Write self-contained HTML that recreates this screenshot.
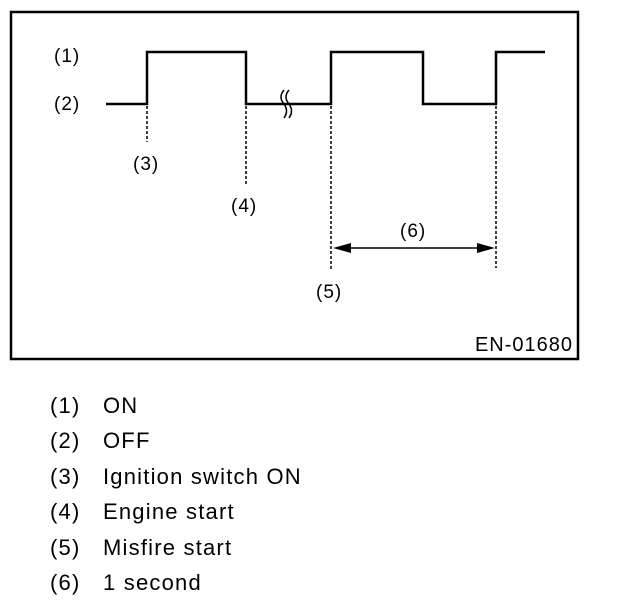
<!DOCTYPE html>
<html><head><style>
body{margin:0;background:#fff;width:640px;height:608px;overflow:hidden;font-family:"Liberation Sans",sans-serif}
.l{position:absolute;left:50px;font-size:22px;letter-spacing:1.2px;color:#000}
.l span{position:absolute;left:53px;white-space:nowrap}
</style></head><body>
<svg width="640" height="608" style="position:absolute;left:0;top:0" font-family="Liberation Sans" font-size="19" letter-spacing="1">
<rect x="11" y="12" width="567" height="347" fill="none" stroke="#000" stroke-width="2.5"/>
<path d="M106 104H147V52H246V104H331V52H423V104H496V52H545" fill="none" stroke="#000" stroke-width="2.5"/>
<path d="M284 90q-6 7 0 14q5 7 0 14M289 90q-6 7 0 14q5 7 0 14" fill="none" stroke="#000" stroke-width="1.5"/>
<g stroke="#000" stroke-dasharray="3,2" stroke-width="1.5">
<line x1="147" y1="106" x2="147" y2="142"/>
<line x1="246" y1="106" x2="246" y2="185"/>
<line x1="331" y1="106" x2="331" y2="270"/>
<line x1="496" y1="106" x2="496" y2="268"/>
</g>
<line x1="340" y1="248" x2="488" y2="248" stroke="#000" stroke-width="1.5"/>
<path d="M333 248l18-5v10z M495 248l-18-5v10z" fill="#000"/>
<text x="54" y="62">(1)</text>
<text x="54" y="110">(2)</text>
<text x="133" y="170">(3)</text>
<text x="231" y="212">(4)</text>
<text x="316" y="298">(5)</text>
<text x="400" y="237">(6)</text>
<text x="573" y="351" text-anchor="end" font-size="20">EN-01680</text>
</svg>
<div class="l" style="top:393px">(1)<span>ON</span></div>
<div class="l" style="top:428px">(2)<span>OFF</span></div>
<div class="l" style="top:464px">(3)<span>Ignition switch ON</span></div>
<div class="l" style="top:499px">(4)<span>Engine start</span></div>
<div class="l" style="top:535px">(5)<span>Misfire start</span></div>
<div class="l" style="top:570px">(6)<span>1 second</span></div>
</body></html>
